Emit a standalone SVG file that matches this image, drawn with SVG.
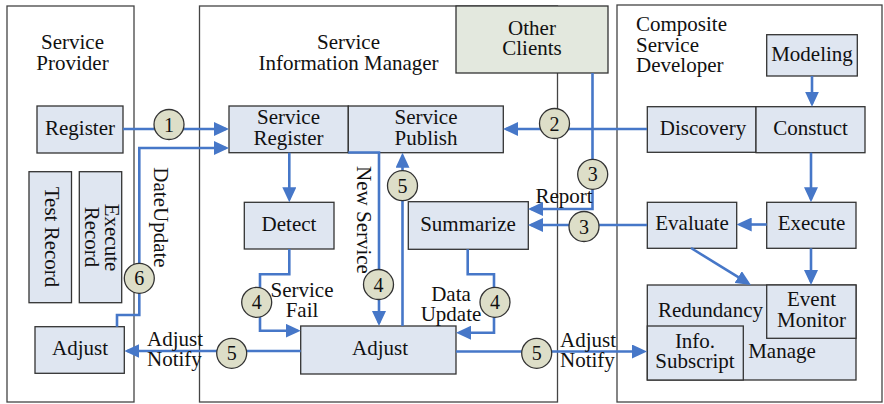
<svg xmlns="http://www.w3.org/2000/svg" width="884" height="404" viewBox="0 0 884 404" font-family="Liberation Serif, serif" font-size="21">
  <style>
    text { fill: #111; }
    .c { text-anchor: middle; }
    .zone { fill: #fff; stroke: #444; stroke-width: 1.3; }
    .box { fill: #dfe6f1; stroke: #333; stroke-width: 1.3; }
    .client { fill: #e3e8de; stroke: #333; stroke-width: 1.3; }
    .link { fill: none; stroke: #4677c8; stroke-width: 2.6; }
    .step circle { fill: #dddec8; stroke: #333; stroke-width: 1.3; }
    .step text { font-size: 20px; text-anchor: middle; }
  </style>
  <defs>
    <marker id="head" markerUnits="userSpaceOnUse" markerWidth="15" markerHeight="14" refX="12" refY="7" orient="auto">
      <path d="M0,0 L15,7 L0,14 z" fill="#4677c8"/>
    </marker>
  </defs>

  <!-- swimlanes -->
  <g id="service-provider">
    <rect class="zone" x="7" y="6" width="127" height="396"/>
    <text class="c" x="72.5" y="49">Service</text>
    <text class="c" x="72.5" y="70">Provider</text>
  </g>
  <g id="service-information-manager">
    <rect class="zone" x="199.5" y="6" width="358" height="396"/>
    <text class="c" x="348.5" y="49">Service</text>
    <text class="c" x="348.5" y="70">Information Manager</text>
  </g>
  <g id="composite-service-developer">
    <rect class="zone" x="617" y="5" width="265" height="397"/>
    <text x="636" y="31">Composite</text>
    <text x="636" y="52">Service</text>
    <text x="636" y="72">Developer</text>
  </g>

  <g id="other-clients">
    <rect class="client" x="456" y="6" width="152" height="67"/>
    <text class="c" x="532" y="35">Other</text>
    <text class="c" x="532" y="55">Clients</text>
  </g>

  <!-- service provider nodes -->
  <g id="register">
    <rect class="box" x="37" y="106" width="86" height="47"/>
    <text class="c" x="80" y="135">Register</text>
  </g>
  <g id="test-record">
    <rect class="box" x="29" y="171.7" width="42.5" height="131"/>
    <text class="c" transform="translate(45,237) rotate(90)">Test Record</text>
  </g>
  <g id="execute-record">
    <rect class="box" x="79.3" y="171.7" width="42.4" height="131"/>
    <text class="c" transform="translate(105,237.5) rotate(90)">Execute</text>
    <text class="c" transform="translate(85,237) rotate(90)">Record</text>
  </g>
  <g id="provider-adjust">
    <rect class="box" x="35" y="326.7" width="89.3" height="46.6"/>
    <text class="c" x="80" y="355">Adjust</text>
  </g>

  <!-- information manager nodes -->
  <g id="service-register">
    <rect class="box" x="229" y="106" width="119.3" height="46.7"/>
    <text class="c" x="288.5" y="124">Service</text>
    <text class="c" x="288.5" y="145">Register</text>
  </g>
  <g id="service-publish">
    <rect class="box" x="348.3" y="106" width="155" height="46.7"/>
    <text class="c" x="426" y="124">Service</text>
    <text class="c" x="426" y="145">Publish</text>
  </g>
  <g id="detect">
    <rect class="box" x="244.3" y="202.3" width="89.7" height="46.7"/>
    <text class="c" x="289" y="231">Detect</text>
  </g>
  <g id="summarize">
    <rect class="box" x="408.3" y="201.7" width="120" height="47.6"/>
    <text class="c" x="468" y="231">Summarize</text>
  </g>
  <g id="manager-adjust">
    <rect class="box" x="300.7" y="326" width="155.3" height="48"/>
    <text class="c" x="380" y="355">Adjust</text>
  </g>

  <!-- developer nodes -->
  <g id="modeling">
    <rect class="box" x="766.7" y="34.7" width="90.6" height="41.3"/>
    <text class="c" x="812" y="61">Modeling</text>
  </g>
  <g id="discovery">
    <rect class="box" x="647.3" y="106.7" width="108.7" height="45.6"/>
    <text class="c" x="703" y="135">Discovery</text>
  </g>
  <g id="constuct">
    <rect class="box" x="756" y="106.7" width="109" height="46"/>
    <text class="c" x="810.5" y="135">Constuct</text>
  </g>
  <g id="evaluate">
    <rect class="box" x="647.3" y="202.3" width="89.4" height="46"/>
    <text class="c" x="692" y="230">Evaluate</text>
  </g>
  <g id="execute">
    <rect class="box" x="766.7" y="202.3" width="89.3" height="46"/>
    <text class="c" x="811.5" y="230">Execute</text>
  </g>
  <g id="manage">
    <rect class="box" x="647.3" y="285" width="208.7" height="95"/>
    <text class="c" x="710.5" y="317">Redundancy</text>
    <text class="c" x="782" y="358">Manage</text>
  </g>
  <g id="event-monitor">
    <rect class="box" x="766.7" y="285" width="89.3" height="53.3"/>
    <text class="c" x="811.5" y="306">Event</text>
    <text class="c" x="811.5" y="327">Monitor</text>
  </g>
  <g id="info-subscript">
    <rect class="box" x="647.3" y="326" width="96" height="54"/>
    <text class="c" x="695" y="348">Info.</text>
    <text class="c" x="695" y="368">Subscript</text>
  </g>

  <!-- connectors -->
  <g id="connectors">
    <path class="link" d="M123,129 H226" marker-end="url(#head)"/>
    <path class="link" d="M117,326.7 V315 H139.3 V148 H226" marker-end="url(#head)"/>
    <path class="link" d="M647,129 H506" marker-end="url(#head)"/>
    <path class="link" d="M592.5,73 V209 H531" marker-end="url(#head)"/>
    <path class="link" d="M647,225 H531" marker-end="url(#head)"/>
    <path class="link" d="M812,76 V103.7" marker-end="url(#head)"/>
    <path class="link" d="M811,152.7 V199.3" marker-end="url(#head)"/>
    <path class="link" d="M766.7,224.5 H739.7" marker-end="url(#head)"/>
    <path class="link" d="M691,248 L748.4,283.4" marker-end="url(#head)"/>
    <path class="link" d="M811,248.3 V282" marker-end="url(#head)"/>
    <path class="link" d="M289.3,152.7 V199.3" marker-end="url(#head)"/>
    <path class="link" d="M289.3,249 V274.3 H260 V330.7 H297.7" marker-end="url(#head)"/>
    <path class="link" d="M348.3,152.5 H379 V323" marker-end="url(#head)"/>
    <path class="link" d="M402.5,326 V155.7" marker-end="url(#head)"/>
    <path class="link" d="M467.7,249.3 V274.3 H494 V332.7 H459" marker-end="url(#head)"/>
    <path class="link" d="M300.7,351 H127.3" marker-end="url(#head)"/>
    <path class="link" d="M456,351.5 H644" marker-end="url(#head)"/>
  </g>

  <!-- connector labels -->
  <g id="connector-labels">
    <text class="c" x="564" y="203">Report</text>
    <text class="c" x="302" y="297">Service</text>
    <text class="c" x="302" y="317">Fail</text>
    <text class="c" x="451" y="301">Data</text>
    <text class="c" x="451" y="321">Update</text>
    <text x="147" y="346">Adjust</text>
    <text x="147" y="366">Notify</text>
    <text x="560" y="347">Adjust</text>
    <text x="560" y="367">Notify</text>
    <text class="c" transform="translate(357,220) rotate(90)">New Service</text>
    <text class="c" transform="translate(154,217.5) rotate(90)">DateUpdate</text>
  </g>

  <!-- numbered steps -->
  <g id="steps">
    <g class="step"><circle cx="169" cy="124.5" r="15"/><text x="169" y="131.5">1</text></g>
    <g class="step"><circle cx="554.5" cy="123.5" r="15"/><text x="554.5" y="130.5">2</text></g>
    <g class="step"><circle cx="592.7" cy="174.3" r="15"/><text x="592.7" y="181.3">3</text></g>
    <g class="step"><circle cx="584" cy="226.5" r="15"/><text x="584" y="233.5">3</text></g>
    <g class="step"><circle cx="256.7" cy="302.3" r="15"/><text x="256.7" y="309.3">4</text></g>
    <g class="step"><circle cx="378.5" cy="284.5" r="15"/><text x="378.5" y="291.5">4</text></g>
    <g class="step"><circle cx="495" cy="302.3" r="15"/><text x="495" y="309.3">4</text></g>
    <g class="step"><circle cx="402.5" cy="185.7" r="15"/><text x="402.5" y="192.7">5</text></g>
    <g class="step"><circle cx="231.7" cy="353.3" r="15"/><text x="231.7" y="360.3">5</text></g>
    <g class="step"><circle cx="536.7" cy="353.3" r="15"/><text x="536.7" y="360.3">5</text></g>
    <g class="step"><circle cx="139.3" cy="278.3" r="15"/><text x="139.3" y="285.3">6</text></g>
  </g>
</svg>
